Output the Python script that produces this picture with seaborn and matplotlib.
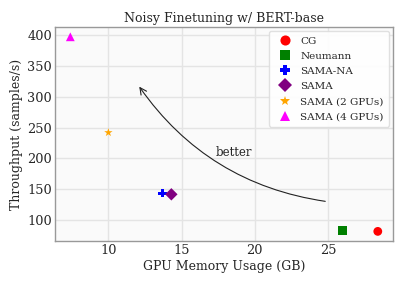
import matplotlib
matplotlib.use('Agg')
import matplotlib.pyplot as plt
import seaborn as sns
import pandas as pd

# ── DATA ──────────────────────────────────────────────
methods = ['CG', 'Neumann', 'SAMA-NA', 'SAMA', 'SAMA (2 GPUs)', 'SAMA (4 GPUs)']
memory_gb = [28.4, 26.0, 13.7, 14.3, 10.0, 7.4]
throughput = [82, 83, 144, 142, 242, 397]
colors = ['red', 'green', 'blue', 'purple', 'orange', 'magenta']
markers = ['o', 's', 'P', 'D', '*', '^']

df = pd.DataFrame({'method': methods, 'mem': memory_gb, 'thr': throughput})

sns.set_theme(style='whitegrid')
plt.rcParams['font.family'] = ['DejaVu Serif']
plt.rcParams['axes.facecolor'] = '#fafafa'
plt.rcParams['axes.edgecolor'] = '#999999'
plt.rcParams['grid.color'] = '#e4e4e4'

fig, ax = plt.subplots(figsize=(4.07, 2.85), dpi=100)
sns.scatterplot(data=df, x='mem', y='thr', hue='method', style='method',
                palette=dict(zip(methods, colors)),
                markers=dict(zip(methods, markers)),
                s=40, ax=ax, edgecolor=None, linewidth=0)

for sp in ax.spines.values():
    sp.set_color('#999999')
    sp.set_linewidth(1.0)

ax.annotate('', xy=(12, 320), xytext=(25, 130),
            arrowprops=dict(arrowstyle='->', color='#222222', lw=0.8,
                            connectionstyle='arc3,rad=-0.22'))
ax.text(18.6, 210, 'better', fontsize=8.5, ha='center', va='center')

ax.set_title('Noisy Finetuning w/ BERT-base', fontsize=9, pad=4)
ax.set_xlabel('GPU Memory Usage (GB)', fontsize=9, labelpad=2)
ax.set_ylabel('Throughput (samples/s)', fontsize=9, labelpad=3)
ax.tick_params(labelsize=9.3, pad=2, length=0)
ax.set_xticks([10, 15, 20, 25])
ax.set_yticks([100, 150, 200, 250, 300, 350, 400])

leg = ax.legend(loc='upper right', fontsize=7.5, frameon=True, framealpha=0.9,
                handletextpad=0.5, borderpad=0.5, labelspacing=0.56,
                markerscale=1.15, borderaxespad=0.4)
leg.get_frame().set_edgecolor('#dddddd')
leg.get_frame().set_facecolor('white')

fig.subplots_adjust(left=0.135, right=0.966, top=0.905, bottom=0.154)
plt.savefig('out.png', dpi=100)
